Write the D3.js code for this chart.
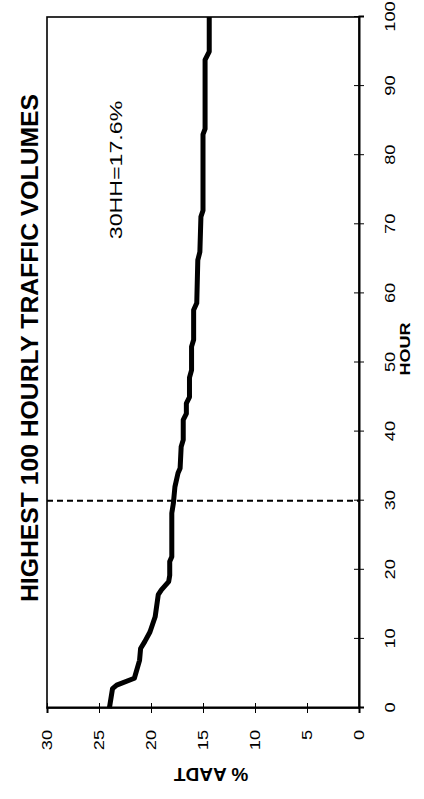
<!DOCTYPE html>
<html><head><meta charset="utf-8">
<script src="https://cdn.jsdelivr.net/npm/d3@7"></script>
<style>html,body{margin:0;padding:0;background:#fff}svg{display:block}</style>
</head><body><div id="chart"></div>
<script>
// ---- data ----
const hours   = [0, 2.8, 3.3, 4.3, 6.9, 8.6, 9.6, 11, 13.2, 16.4, 17.1, 18.3, 19.2, 21.2, 21.9, 28.2, 29.6, 32, 34, 34.7, 37.8, 38.8, 41.7, 42.6, 44.1, 45, 47.8, 48.9, 52.3, 53.3, 57.6, 58.6, 64.8, 66, 71.1, 72, 83, 83.8, 93.8, 95, 100];
const pctAADT = [24.0, 23.7, 23.3, 21.6, 21.1, 21.0, 20.6, 20.1, 19.6, 19.3, 19.0, 18.3, 18.2, 18.2, 18.0, 18.0, 17.85, 17.7, 17.4, 17.2, 17.1, 16.9, 16.9, 16.6, 16.6, 16.3, 16.3, 16.1, 16.1, 15.9, 15.9, 15.6, 15.5, 15.3, 15.2, 15.0, 15.0, 14.8, 14.8, 14.4, 14.4];
const hourTicks = [0, 10, 20, 30, 40, 50, 60, 70, 80, 90, 100];
const pctTicks  = [0, 5, 10, 15, 20, 25, 30];
const markHour  = 30;
const titleText = "HIGHEST 100 HOURLY TRAFFIC VOLUMES";
const noteText  = "30HH=17.6%";
const xLabel = "HOUR";
const yLabel = "% AADT";

// ---- layout: chart drawn landscape, then rotated -90deg ----
const W = 424, H = 799;
const FONT = "'Liberation Sans', Arial, sans-serif";
const SX = 1.3; // horizontal stretch of the source picture's text
const svg = d3.select("#chart").append("svg").attr("width", W).attr("height", H);
const g = svg.append("g").attr("transform", `translate(0,${H}) rotate(-90)`);

const x = d3.scaleLinear().domain([0, 100]).range([91, 782]);
const y = d3.scaleLinear().domain([0, 30]).range([359, 47]);

// plot frame
g.append("rect")
  .attr("x", x(0)).attr("y", y(30))
  .attr("width", x(100) - x(0)).attr("height", y(0) - y(30))
  .attr("fill", "none").attr("stroke", "#000").attr("stroke-width", 1.6);

// HOUR axis
const xa = g.append("g").attr("transform", `translate(0,${y(0)})`)
  .call(d3.axisBottom(x).tickValues(hourTicks).tickSize(5));
xa.select(".domain").attr("stroke-width", 2);
xa.selectAll(".tick line").attr("y1", -5).attr("y2", 5).attr("stroke-width", 1);
xa.selectAll(".tick text").attr("y", 0).attr("dy", 0)
  .attr("transform", `translate(0,36) scale(${SX},1)`)
  .attr("font-family", FONT).attr("font-size", 14).attr("fill", "#000");

// % AADT axis
const ya = g.append("g").attr("transform", `translate(${x(0)},0)`)
  .call(d3.axisLeft(y).tickValues(pctTicks).tickSize(5));
ya.select(".domain").attr("stroke-width", 2);
ya.selectAll(".tick line").attr("x1", -5).attr("x2", 5).attr("stroke-width", 1);
ya.selectAll(".tick text").attr("x", 0).attr("dy", "0.35em")
  .attr("transform", `translate(-22,0) scale(${SX},1)`)
  .attr("font-family", FONT).attr("font-size", 14).attr("fill", "#000");

// 30th hour dashed marker
g.append("line")
  .attr("x1", x(markHour)).attr("x2", x(markHour))
  .attr("y1", y(30)).attr("y2", y(0))
  .attr("stroke", "#000").attr("stroke-width", 2).attr("stroke-dasharray", "6,4");

// data line
const pts = hours.map((h, i) => [h, pctAADT[i]]);
g.append("path").datum(pts)
  .attr("fill", "none").attr("stroke", "#000").attr("stroke-width", 5)
  .attr("stroke-linejoin", "round").attr("stroke-linecap", "butt")
  .attr("d", d3.line().x(d => x(d[0])).y(d => y(d[1])));

// title
g.append("text").attr("transform", `translate(451,38) scale(1.03,1)`).attr("text-anchor", "middle")
  .attr("font-family", FONT).attr("font-size", 24).attr("font-weight", "bold")
  .text(titleText);

// annotation
g.append("text").attr("transform", `translate(629,122) scale(1.45,1)`).attr("text-anchor", "middle")
  .attr("font-family", FONT).attr("font-size", 16)
  .text(noteText);

// axis titles
g.append("text").attr("transform", `translate(450,410) scale(1.2,1)`).attr("text-anchor", "middle")
  .attr("font-family", FONT).attr("font-size", 15).attr("font-weight", "bold")
  .text(xLabel);
g.append("text").attr("transform", `translate(31,211) rotate(-90)`)
  .attr("text-anchor", "middle")
  .attr("font-family", FONT).attr("font-size", 19).attr("font-weight", "bold")
  .text(yLabel);
</script></body></html>
